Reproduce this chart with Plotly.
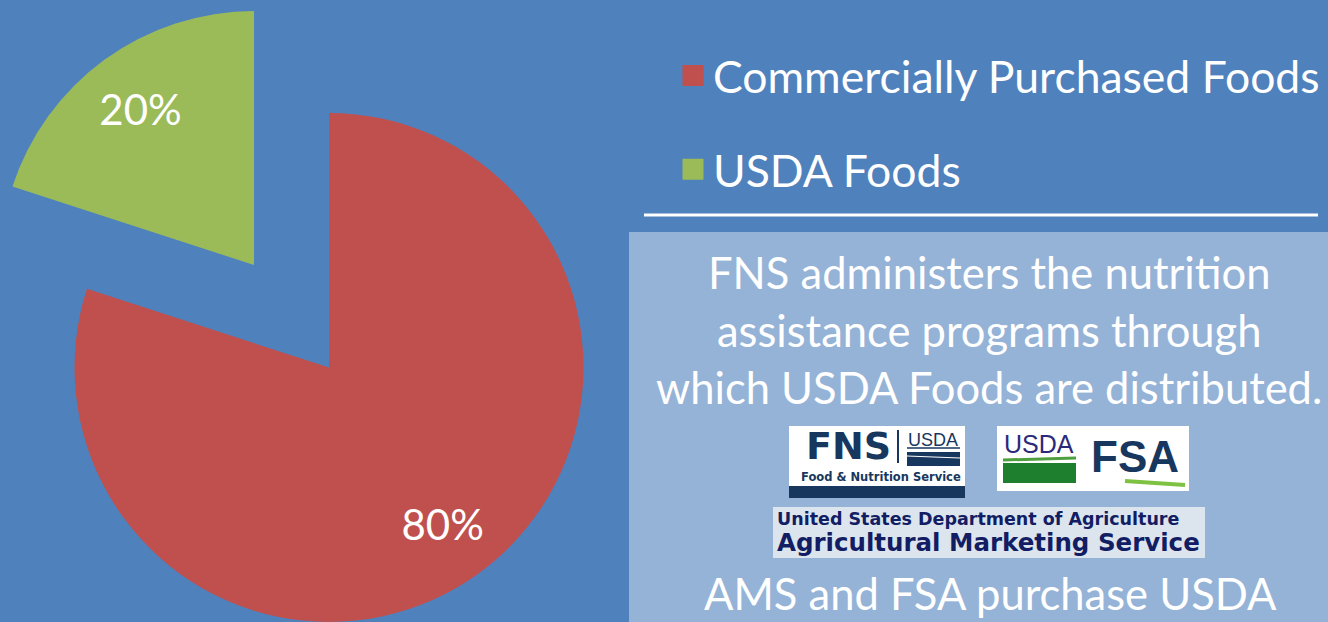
import plotly.graph_objects as go

# ---------------- data ----------------
categories = ["Commercially Purchased Foods", "USDA Foods"]
shares = [80, 20]
slice_colors = ["#C0504D", "#9BBB59"]
note_lines = [
    "FNS administers the nutrition",
    "assistance programs through",
    "which USDA Foods are distributed.",
]
footer_line = "AMS and FSA purchase USDA"

# ---------------- style / layout helpers ----------------
W, H = 1328, 622
BG = "#4F81BD"
BOX = "#95B3D7"
NAVY = "#17375E"
CLEAR = "rgba(0,0,0,0)"
FONT = "Lato"


def fx(px):
    return px / W


def fy(px):
    return 1 - px / H


# main pie (red slice shown) and the pulled-out copy (green slice shown)
dom_main = dict(x=[fx(74), fx(584)], y=[0, fy(113)])
dom_pull = dict(x=[0, fx(508)], y=[fy(520), fy(10)])

fig = go.Figure()

common = dict(labels=categories, values=shares, sort=False, direction="clockwise",
              rotation=0, showlegend=False, hoverinfo="label+percent",
              marker_line_width=0)

fig.add_trace(go.Pie(domain=dom_main, marker_colors=[slice_colors[0], CLEAR],
                     textinfo="none", **common))
fig.add_trace(go.Pie(domain=dom_pull, marker_colors=[CLEAR, slice_colors[1]],
                     textinfo="none", **common))

# percent labels (transparent ring traces so the labels sit further out in the slice)
lbl = dict(labels=categories, values=shares, sort=False, direction="clockwise",
           rotation=0, showlegend=False, hoverinfo="skip", hole=0.52,
           marker=dict(colors=[CLEAR, CLEAR], line=dict(width=0)),
           textposition="inside", insidetextorientation="horizontal",
           textfont=dict(family=FONT, size=42, color="white"))
fig.add_trace(go.Pie(domain=dom_main, texttemplate=["%{percent:.0%}", ""], **lbl))
fig.add_trace(go.Pie(domain=dom_pull, texttemplate=["", "%{percent:.0%}"], **lbl))

# legend entries
for name, col in zip(categories, slice_colors):
    fig.add_trace(go.Scatter(x=[None], y=[None], mode="markers", name=name,
                             legendgroup=name, hoverinfo="skip",
                             marker=dict(symbol="square", size=16, color=col,
                                         line=dict(color=col, width=5))))

shapes = [
    # white rule under legend
    dict(type="line", xref="paper", yref="paper", x0=fx(644), x1=fx(1318),
         y0=fy(215), y1=fy(215), line=dict(color="white", width=3)),
    # light info box
    dict(type="rect", xref="paper", yref="paper", x0=fx(629), x1=1, y0=0, y1=fy(232),
         fillcolor=BOX, line=dict(width=0), layer="below"),
    # FNS logo
    dict(type="rect", xref="paper", yref="paper", x0=fx(789), x1=fx(965),
         y0=fy(486), y1=fy(426), fillcolor="white", line=dict(width=0)),
    dict(type="rect", xref="paper", yref="paper", x0=fx(789), x1=fx(965),
         y0=fy(498), y1=fy(486), fillcolor=NAVY, line=dict(width=0)),
    dict(type="line", xref="paper", yref="paper", x0=fx(898), x1=fx(898),
         y0=fy(463), y1=fy(430), line=dict(color=NAVY, width=2)),
    dict(type="rect", xref="paper", yref="paper", x0=fx(907), x1=fx(960),
         y0=fy(466), y1=fy(452), fillcolor=NAVY, line=dict(width=0)),
    dict(type="line", xref="paper", yref="paper", x0=fx(907), x1=fx(960),
         y0=fy(456), y1=fy(458), line=dict(color="white", width=1)),
    dict(type="line", xref="paper", yref="paper", x0=fx(907), x1=fx(960),
         y0=fy(448), y1=fy(448), line=dict(color=NAVY, width=1.5)),
    # FSA logo
    dict(type="rect", xref="paper", yref="paper", x0=fx(997), x1=fx(1189),
         y0=fy(491), y1=fy(426), fillcolor="white", line=dict(width=0)),
    dict(type="rect", xref="paper", yref="paper", x0=fx(1003), x1=fx(1076),
         y0=fy(483), y1=fy(463), fillcolor="#1E7F2E", line=dict(width=0)),
    dict(type="line", xref="paper", yref="paper", x0=fx(1003), x1=fx(1076),
         y0=fy(460), y1=fy(458), line=dict(color="#4E9F3D", width=3)),
    dict(type="line", xref="paper", yref="paper", x0=fx(1125), x1=fx(1185),
         y0=fy(481), y1=fy(485), line=dict(color="#7DC242", width=4)),
    # AMS banner
    dict(type="rect", xref="paper", yref="paper", x0=fx(773), x1=fx(1205),
         y0=fy(558), y1=fy(507), fillcolor="#DCE5EE", line=dict(width=0)),
]

annotations = []
for txt, yc in zip(note_lines, [272, 330, 387]):
    annotations.append(dict(text=txt, x=fx(989), y=fy(yc), xref="paper", yref="paper",
                            xanchor="center", yanchor="middle", showarrow=False,
                            font=dict(family=FONT, size=43.5, color="white")))
annotations.append(dict(text=footer_line, x=fx(990), y=fy(593), xref="paper", yref="paper",
                        xanchor="center", yanchor="middle", showarrow=False,
                        font=dict(family=FONT, size=43.5, color="white")))

logo_txt = [
    ("<b>FNS</b>", 849, 446, "center", "DejaVu Sans", 38, NAVY),
    ("USDA", 933, 440, "center", "Liberation Sans", 18, NAVY),
    ("<b>Food &amp; Nutrition Service</b>", 881, 477, "center", "DejaVu Sans", 11.5, NAVY),
    ("USDA", 1039, 444, "center", "Liberation Sans", 25, "#2B2A7A"),
    ("<b>FSA</b>", 1135, 456, "center", "Liberation Sans", 44, NAVY),
    ("<b>United States Department of Agriculture</b>", 775, 519, "left", "DejaVu Sans", 17.5, "#121D63"),
    ("<b>Agricultural Marketing Service</b>", 775, 542, "left", "DejaVu Sans", 24.5, "#121D63"),
]
for txt, xc, yc, xa, fam, sz, col in logo_txt:
    annotations.append(dict(text=txt, x=fx(xc), y=fy(yc), xref="paper", yref="paper",
                            xanchor=xa, yanchor="middle", showarrow=False,
                            font=dict(family=fam, size=sz, color=col)))

fig.update_layout(
    width=W, height=H,
    margin=dict(l=0, r=0, t=0, b=0, pad=0),
    paper_bgcolor=BG, plot_bgcolor=BG,
    xaxis=dict(visible=False), yaxis=dict(visible=False),
    shapes=shapes, annotations=annotations,
    legend=dict(x=fx(673), y=fy(40), xanchor="left", yanchor="top",
                bgcolor=CLEAR, borderwidth=0, tracegroupgap=33,
                font=dict(family=FONT, size=44.5, color="white")),
)

fig.write_html("out.html",
               config={"displayModeBar": False},
               post_script="document.body.style.margin='0px';"
                           "document.body.style.overflow='hidden';")
